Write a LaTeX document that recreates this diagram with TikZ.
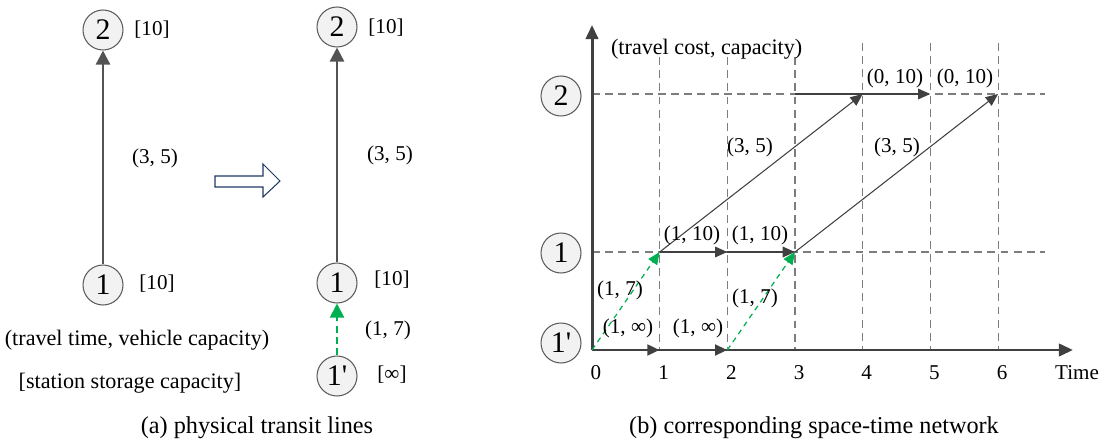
\documentclass[tikz,border=0pt]{standalone}
\usepackage{fontspec}
\setmainfont{Liberation Serif}
\usetikzlibrary{arrows.meta,positioning,calc}
\definecolor{arcgray}{RGB}{64,64,64}
\definecolor{gridgray}{RGB}{125,125,125}
\definecolor{stationfill}{RGB}{242,242,242}
\definecolor{walkgreen}{RGB}{0,176,80}
\definecolor{hollowblue}{RGB}{32,56,100}
\tikzset{
  station/.style={circle,draw=arcgray!85,line width=0.6pt,fill=stationfill,minimum size=0.8cm,inner sep=0pt,font=\fontsize{17}{17}\selectfont},
  lbl/.style={inner sep=1pt,font=\fontsize{12}{14}\selectfont},
  legtxt/.style={inner sep=1pt,font=\fontsize{12.6}{14}\selectfont},
  captxt/.style={inner sep=1pt,font=\fontsize{13.8}{16}\selectfont},
  linkarc/.style={draw=arcgray!90,line width=1.4pt,-{Triangle[length=8pt,width=8pt]}},
  flowarc/.style={draw=arcgray,line width=0.9pt,-{Triangle[length=7pt,width=6pt]}},
  thinarc/.style={draw=arcgray,line width=0.6pt,-{Triangle[length=7pt,width=6pt]}},
  walkarc/.style={draw=walkgreen,line width=0.7pt,dash pattern=on 3pt off 2.5pt,-{Triangle[length=7pt,width=6pt,fill=walkgreen]}},
  gridline/.style={draw=gridgray,line width=0.6pt,dash pattern=on 4.5pt off 3pt},
  axisline/.style={draw=arcgray,line width=1.7pt}
}
\newcommand{\tpos}[1]{592+67.67*#1}

\begin{document}
\begin{tikzpicture}[x=0.02cm,y=-0.02cm]
  \useasboundingbox (0,0) rectangle (1105,446);
  % (a) physical transit lines
  \node[station] (a2) at (103,30) {2};
  \node[station] (a1) at (103,285) {1};
  \draw[linkarc] (a1) -- (a2);
  \node[lbl] (a2cap) at (152,30) {[10]};
  \node[lbl] (a1cap) at (157,284) {[10]};
  \node[lbl] (a12) at (155,158) {(3, 5)};
  \draw[hollowblue,line width=0.6pt,fill=white] (215,176) -- (263,176) -- (263,164) -- (280,181) -- (263,197) -- (263,187) -- (215,187) -- cycle;
  \node[station] (c2) at (337,27) {2};
  \node[station] (c1) at (337,283) {1};
  \node[station] (c0) at (337,376) {1\textquotesingle};
  \draw[linkarc] (c1) -- (c2);
  \draw[walkarc,line width=1.2pt,dash pattern=on 4pt off 2.5pt,-{Triangle[length=8pt,width=8pt,fill=walkgreen]}] (c0) -- (c1);
  \node[lbl] (c2cap) at (386,28) {[10]};
  \node[lbl] (c12) at (390,155) {(3, 5)};
  \node[lbl] (c1cap) at (392,280) {[10]};
  \node[lbl] (c01) at (388,330) {(1, 7)};
  \node[lbl] (c0cap) at (392,375) {[∞]};
  \node[legtxt] (legarc) at (137,340) {(travel time, vehicle capacity)};
  \node[legtxt] (legnode) at (130,383) {[station storage capacity]};
  \node[captxt] (capa) at (257,428) {(a) physical transit lines};
  % (b) space-time network
  \foreach \t in {0,...,6}{
    \coordinate (s\t) at ({\tpos{\t}},350);
    \coordinate (r\t) at ({\tpos{\t}},252);
    \coordinate (q\t) at ({\tpos{\t}},94);
    \node[lbl] (tk\t) at ({\tpos{\t}+4},373) {\t};
  }
  \foreach \t in {1,2,3} \draw[gridline] ({\tpos{\t}},57) -- (s\t);
  \foreach \t in {4,5,6} \draw[gridline] ({\tpos{\t}},43) -- (s\t);
  \coordinate (qend) at (1045,94);
  \coordinate (rend) at (1045,252);
  \draw[gridline] (q0) -- (qend);
  \draw[gridline] (r0) -- (rend);
  \coordinate (ytop) at (592,25);
  \coordinate (xend) at (1073,350);
  \draw[axisline,-{Triangle[length=8pt,width=7pt]}] (s0) -- (ytop);
  \draw[axisline,-{Triangle[length=8pt,width=7pt]}] (s0) -- (xend);
  \node[lbl] (tlab) at (1077,373) {Time};
  \node[station] (b2) at (561,96) {2};
  \node[station] (b1) at (561,253) {1};
  \node[station] (b0) at (561,343) {1\textquotesingle};
  \node[legtxt,anchor=west] (legb) at (609,49) {(travel cost, capacity)};
  % waiting and travel arcs
  \draw[axisline,-{Triangle[length=7pt,width=6pt]}] (s0) -- (s1);
  \draw[axisline,-{Triangle[length=7pt,width=6pt]}] (s1) -- (s2);
  \draw[flowarc] (r1) -- (r2);
  \draw[flowarc] (r2) -- (r3);
  \draw[arcgray,line width=0.9pt] (q3) -- (q4);
  \draw[flowarc] (q4) -- (q5);
  \draw[thinarc] (r1) -- (q4);
  \draw[thinarc] (r3) -- (q6);
  \draw[walkarc] (s0) -- (r1);
  \draw[walkarc] (s2) -- (r3);
  \node[lbl] (w01) at (628,328) {(1, ∞)};
  \node[lbl] (w12) at (698,328) {(1, ∞)};
  \node[lbl] (g01) at (620,290) {(1, 7)};
  \node[lbl] (g23) at (755,298) {(1, 7)};
  \node[lbl] (f12) at (692,235) {(1, 10)};
  \node[lbl] (f23) at (760,235) {(1, 10)};
  \node[lbl] (d14) at (750,147) {(3, 5)};
  \node[lbl] (d36) at (897,147) {(3, 5)};
  \node[lbl] (h45) at (895,78) {(0, 10)};
  \node[lbl] (h56) at (965,78) {(0, 10)};
  \node[captxt] (capb) at (814,428) {(b) corresponding space-time network};
\end{tikzpicture}
\end{document}
